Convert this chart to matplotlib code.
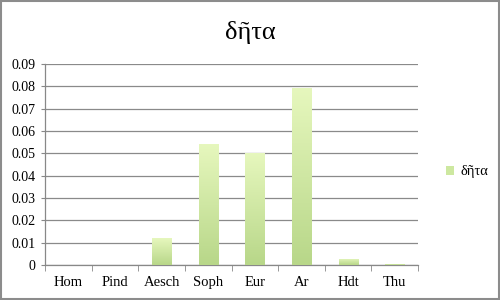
import matplotlib.pyplot as plt
import numpy as np
from matplotlib.colors import LinearSegmentedColormap
from matplotlib.patches import Rectangle, Patch

authors = ["Hom", "Pind", "Aesch", "Soph", "Eur", "Ar", "Hdt", "Thu"]
deta = [0.0, 0.0, 0.012, 0.054, 0.050, 0.079, 0.0027, 0.0005]
yticks = [0, 0.01, 0.02, 0.03, 0.04, 0.05, 0.06, 0.07, 0.08, 0.09]
ytick_labels = ["0", "0.01", "0.02", "0.03", "0.04", "0.05", "0.06", "0.07", "0.08", "0.09"]
series_name = "δῆτα"

plt.rcParams["font.family"] = ["Liberation Serif", "DejaVu Serif"]

fig = plt.figure(figsize=(5, 3), dpi=100)
ax = fig.add_axes([0.09, 0.117, 0.746, 0.670])

grad = LinearSegmentedColormap.from_list("g", ["#b8d789", "#e6f7bd"])
x = np.arange(len(authors))
bars = ax.bar(x, deta, width=0.41, color="none", edgecolor="none", zorder=3)
gimg = np.linspace(0, 1, 100).reshape(-1, 1)
for b in bars:
    h = b.get_height()
    if h <= 0:
        continue
    x0 = b.get_x()
    w = b.get_width()
    im = ax.imshow(gimg, cmap=grad, origin="lower", aspect="auto",
                   extent=(x0, x0 + w, 0, h), zorder=3)
    im.set_clip_path(b)

ax.set_xlim(-0.5, len(authors) - 0.5)
ax.set_ylim(0, 0.09)
ax.set_yticks(yticks)
ax.set_yticklabels(ytick_labels, fontsize=10)
ax.set_xticks(x)
ax.set_xticklabels(authors, fontsize=10.5)
ax.tick_params(axis="x", length=0, pad=8)
ax.set_xticks(np.arange(-0.5, len(authors)), minor=True)
ax.tick_params(axis="x", which="minor", length=4, color="#888888")
ax.tick_params(axis="y", length=3, color="#888888", pad=4)
ax.grid(axis="y", color="#8a8a8a", linewidth=0.9, zorder=0)
ax.set_axisbelow(True)
for s in ["top", "right"]:
    ax.spines[s].set_visible(False)
for s in ["left", "bottom"]:
    ax.spines[s].set_color("#888888")
    ax.spines[s].set_linewidth(0.9)

fig.text(0.5, 0.89, series_name, ha="center", va="center", fontsize=19)
fig.legend(handles=[Patch(facecolor="#cde8a0", edgecolor="none", label=series_name)],
           loc="center left", bbox_to_anchor=(0.865, 0.427), frameon=False,
           fontsize=10.5, handlelength=0.6, handleheight=0.6, handletextpad=0.4)

fig.patches.append(Rectangle((0.002, 0.003), 0.995, 0.994, transform=fig.transFigure,
                             fill=False, edgecolor="#8c8c8c", linewidth=1.5))

fig.savefig("out.png", dpi=100)
